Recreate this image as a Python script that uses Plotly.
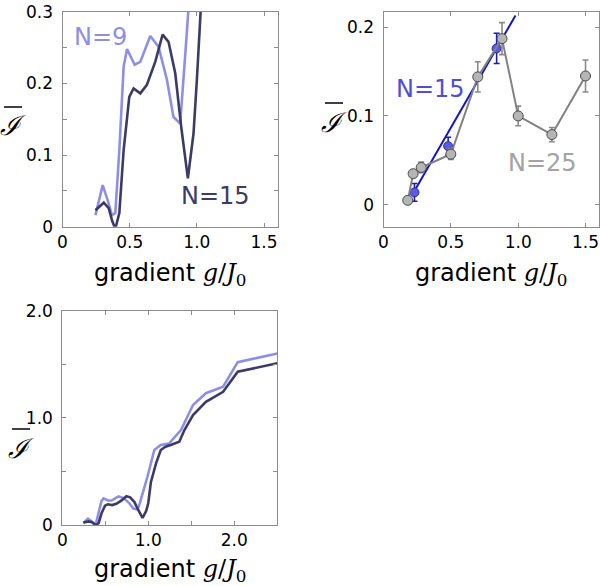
import plotly.graph_objects as go

# ---------------- data ----------------
# Panel (a)/(c): mean current vs gradient, N=9 (light) and N=15 (dark)
n9_x = [0.245, 0.299, 0.336, 0.368, 0.393, 0.423, 0.455, 0.48, 0.537, 0.579, 0.653, 0.715,
        0.777, 0.826, 0.876, 0.90, 0.925, 0.99, 1.07, 1.145, 1.24, 1.38, 1.52, 1.67, 1.87,
        2.04, 2.5]
n9_y = [0.016, 0.058, 0.037, 0.016, 0.019, 0.107, 0.223, 0.248, 0.226, 0.230, 0.266, 0.251,
        0.205, 0.153, 0.144, 0.20, 0.27, 0.45, 0.70, 0.746, 0.76, 0.886, 1.12, 1.23, 1.29,
        1.52, 1.60]
n15_x = [0.245, 0.307, 0.344, 0.37, 0.393, 0.423, 0.455, 0.497, 0.529, 0.579, 0.628, 0.69,
         0.745, 0.789, 0.839, 0.883, 0.933, 0.975, 1.0, 1.03, 1.09, 1.145, 1.2, 1.26, 1.36,
         1.42, 1.52, 1.67, 1.87, 2.04, 2.5]
n15_y = [0.023, 0.0335, 0.026, 0.008, -0.003, 0.019, 0.107, 0.181, 0.193, 0.186, 0.198, 0.230,
         0.268, 0.258, 0.214, 0.14, 0.0675, 0.13, 0.205, 0.40, 0.575, 0.70, 0.73, 0.746, 0.777,
         0.886, 1.026, 1.15, 1.243, 1.43, 1.51]

# Panel (b): simulation points
b15_x = [0.23, 0.48, 0.84]
b15_y = [0.014, 0.066, 0.176]
b15_err = [0.010, 0.010, 0.017]
b15_fit_x = [0.22, 0.98]
b15_fit_y = [0.013, 0.213]

b25_x = [0.18, 0.22, 0.28, 0.50, 0.70, 0.88, 1.00, 1.25, 1.50]
b25_y = [0.005, 0.035, 0.042, 0.057, 0.144, 0.187, 0.100, 0.079, 0.145]
b25_err = [0.002, 0.004, 0.006, 0.006, 0.017, 0.018, 0.011, 0.008, 0.018]

# tick labels
tl_xticks = [0, 0.5, 1.0, 1.5]
tl_xtext = ["0", "0.5", "1.0", "1.5"]
tl_yticks = [0, 0.1, 0.2, 0.3]
tl_ytext = ["0", "0.1", "0.2", "0.3"]
tr_yticks = [0, 0.1, 0.2]
tr_ytext = ["0", "0.1", "0.2"]
bl_xticks = [0, 1.0, 2.0]
bl_xtext = ["0", "1.0", "2.0"]
bl_yticks = [0, 1.0, 2.0]
bl_ytext = ["0", "1.0", "2.0"]

# ---------------- style ----------------
W, H = 600, 586
LIGHT = "#8e8ee6"
DARK = "#3b3b66"
BLUE_TXT = "#4f4fd6"
BLUE_LINE = "#1414c8"
GRAY_LINE = "#828282"
FONT = "DejaVu Sans"
FRAME = "#8c8c8c"


def px(x):
    return x / W


def py(y):
    return 1 - y / H


def axis(domain, rng, tickvals, ticktext, anchor, minor_dtick=None):
    d = dict(domain=domain, range=rng, tickvals=tickvals, ticktext=ticktext,
             anchor=anchor, showline=True, mirror="ticks", linecolor=FRAME,
             linewidth=1, ticks="inside", ticklen=4, tickcolor=FRAME,
             showgrid=False, zeroline=False, automargin=False,
             ticklabeloverflow="allow",
             tickfont=dict(family=FONT, size=17, color="black"))
    if minor_dtick is not None:
        d["minor"] = dict(dtick=minor_dtick, tick0=0, ticks="inside", ticklen=4,
                          tickcolor=FRAME, showgrid=False)
    return d


fig = go.Figure()

# Top-left
fig.add_trace(go.Scatter(x=n9_x, y=n9_y, mode="lines", line=dict(color=LIGHT, width=2.6),
                         xaxis="x", yaxis="y", showlegend=False))
fig.add_trace(go.Scatter(x=n15_x, y=n15_y, mode="lines", line=dict(color=DARK, width=2.6),
                         xaxis="x", yaxis="y", showlegend=False))

# Top-right
fig.add_trace(go.Scatter(x=b15_fit_x, y=b15_fit_y, mode="lines",
                         line=dict(color=BLUE_LINE, width=2), xaxis="x2", yaxis="y2",
                         showlegend=False))
fig.add_trace(go.Scatter(x=b15_x, y=b15_y, mode="markers",
                         marker=dict(size=9, color="#5b5be0", line=dict(color="#2a2a9a", width=1)),
                         error_y=dict(type="data", array=b15_err, color="#1a1ab4", thickness=1.6, width=3),
                         xaxis="x2", yaxis="y2", showlegend=False))
fig.add_trace(go.Scatter(x=b25_x, y=b25_y, mode="lines+markers",
                         line=dict(color=GRAY_LINE, width=2),
                         marker=dict(size=10, color="#b5b5b5", line=dict(color="#4a4a4a", width=1)),
                         error_y=dict(type="data", array=b25_err, color="#8a8a8a", thickness=1.6, width=3),
                         xaxis="x2", yaxis="y2", showlegend=False))

# Bottom-left
fig.add_trace(go.Scatter(x=n9_x, y=n9_y, mode="lines", line=dict(color=LIGHT, width=2.6),
                         xaxis="x3", yaxis="y3", showlegend=False))
fig.add_trace(go.Scatter(x=n15_x, y=n15_y, mode="lines", line=dict(color=DARK, width=2.6),
                         xaxis="x3", yaxis="y3", showlegend=False))

tl_xd = [px(62.5), px(277.5)]
tl_yd = [py(226.7), py(11.7)]
tr_xd = [px(383.5), px(599)]
tr_yd = [py(227), py(12)]
bl_xd = [px(62.3), px(277.3)]
bl_yd = [py(525), py(310.7)]

fig.update_layout(
    width=W, height=H, margin=dict(l=0, r=0, t=0, b=0, autoexpand=False),
    paper_bgcolor="white", plot_bgcolor="white",
    xaxis=axis(tl_xd, [0, 1.6], tl_xticks, tl_xtext, "y"),
    yaxis=axis(tl_yd, [0, 0.3], tl_yticks, tl_ytext, "x", 0.05),
    xaxis2=axis(tr_xd, [0, 1.6], tl_xticks, tl_xtext, "y2"),
    yaxis2=axis(tr_yd, [-0.025, 0.217], tr_yticks, tr_ytext, "x2"),
    xaxis3=axis(bl_xd, [0, 2.5], bl_xticks, bl_xtext, "y3", 0.5),
    yaxis3=axis(bl_yd, [0, 2.0], bl_yticks, bl_ytext, "x3", 0.5),
)
for ax in ["yaxis", "yaxis2", "yaxis3"]:
    fig.layout[ax].ticklabelstandoff = 5

xtitle = 'gradient <span style="font-family:DejaVu Serif"><i>g</i>/<i>J</i><sub>0</sub></span>'
annotations = []
for cx, cy in [(170, 274), (491, 274), (170, 570)]:
    annotations.append(dict(x=px(cx), y=py(cy), xref="paper", yref="paper", text=xtitle,
                            showarrow=False, xanchor="center", yanchor="middle",
                            font=dict(family=FONT, size=24, color="black")))
shapes = []
for cx, cy in [(13, 126), (334, 122), (21, 448)]:
    annotations.append(dict(x=px(cx), y=py(cy), xref="paper", yref="paper",
                            text="<i>ℐ</i>", showarrow=False, xanchor="center", yanchor="middle",
                            font=dict(family="DejaVu Serif", size=27, color="black")))
    shapes.append(dict(type="line", xref="paper", yref="paper", x0=px(cx - 9), x1=px(cx + 9),
                       y0=py(cy - 19), y1=py(cy - 19), line=dict(color="black", width=1.5)))

for txt, cx, cy, col in [("N=9", 100, 37, LIGHT), ("N=15", 215, 196, DARK),
                         ("N=15", 430, 89, BLUE_TXT), ("N=25", 542, 163, "#a3a3a3")]:
    annotations.append(dict(x=px(cx), y=py(cy), xref="paper", yref="paper", text=txt,
                            showarrow=False, xanchor="center", yanchor="middle",
                            font=dict(family=FONT, size=24, color=col)))

fig.update_layout(annotations=annotations, shapes=shapes)
fig.write_html("out.html", config={"displayModeBar": False},
               post_script="document.body.style.margin='0';document.body.style.overflow='hidden';")
